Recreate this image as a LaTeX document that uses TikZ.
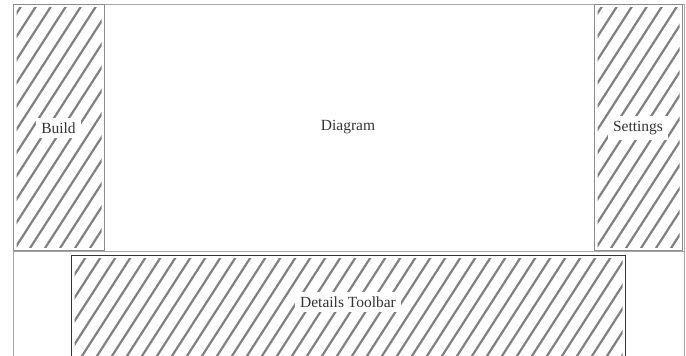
\documentclass[tikz,border=0pt]{standalone}
\usepackage{fontspec}
\setmainfont{Liberation Serif}
\definecolor{hatchgray}{HTML}{808080}
\definecolor{framegray}{HTML}{A6A6A6}
\definecolor{boxgray}{HTML}{8C8C8C}
\definecolor{darkborder}{HTML}{333333}
\definecolor{textgray}{HTML}{333333}
\tikzset{
  hatchline/.style={draw=hatchgray, line width=2.2pt},
  hatched/.style={rectangle, inner sep=0pt, anchor=north west,
    path picture={
      \clip ([shift={(3pt,3pt)}]path picture bounding box.south west) rectangle ([shift={(-3pt,-3pt)}]path picture bounding box.north east);
      \foreach \k in {-30,...,50}
        \draw[hatchline] ([xshift=\k*15pt]path picture bounding box.south west) -- ++(200pt,310pt);
    }},
  panelbox/.style={hatched, draw=boxgray, line width=1pt},
  toolbarbox/.style={hatched, draw=darkborder, line width=1pt},
  lbl/.style={fill=white, inner xsep=5pt, inner ysep=5pt, text=textgray, font=\fontsize{15.5pt}{18pt}\selectfont},
  plain/.style={text=textgray, font=\fontsize{15.5pt}{18pt}\selectfont},
  frameline/.style={draw=framegray, line width=1pt}
}
\begin{document}
\begin{tikzpicture}[x=1pt,y=-1pt]
\useasboundingbox (0,0) rectangle (686,356);
\clip (0,0) rectangle (686,356);
% outer frame
\coordinate (tl) at (13,4);
\coordinate (tr) at (684,4);
\coordinate (bl) at (13,400);
\coordinate (br) at (684,400);
\coordinate (dl) at (13,251);
\coordinate (dr) at (684,251);
\draw[frameline] (bl) -- (tl) -- (tr) -- (br);
\draw[frameline] (dl) -- (dr);
% panels
\node[panelbox, minimum width=91pt, minimum height=246pt] (build) at (13,4) {};
\node[panelbox, minimum width=88pt, minimum height=246pt] (settings) at (594,4) {};
\node[toolbarbox, minimum width=554pt, minimum height=140pt] (details) at (71,255) {};
% labels
\node[lbl] (buildlbl) at (58.5,128) {Build};
\node[lbl] (settingslbl) at (638,128) {Settings};
\node[plain] (diagramlbl) at (348,127) {Diagram};
\node[lbl] (detailslbl) at (348,302) {Details Toolbar};
\end{tikzpicture}
\end{document}
